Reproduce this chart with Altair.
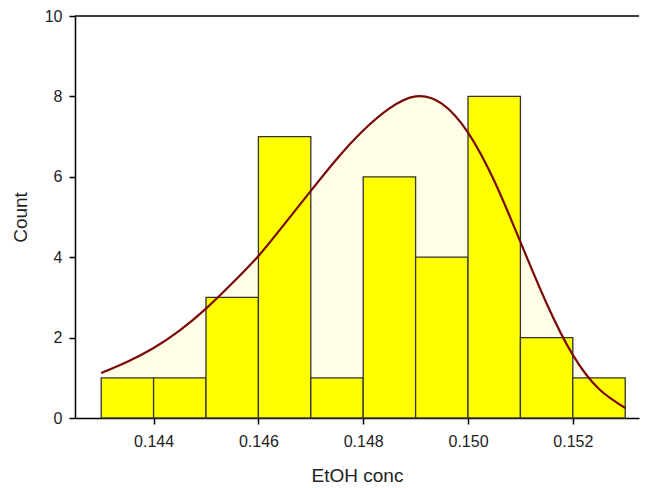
import altair as alt
import pandas as pd

# Histogram bins (EtOH concentration) and counts
bin_starts = [0.143, 0.144, 0.145, 0.146, 0.147, 0.148, 0.149, 0.150, 0.151, 0.152]
bin_ends = [0.144, 0.145, 0.146, 0.147, 0.148, 0.149, 0.150, 0.151, 0.152, 0.153]
counts = [1, 1, 3, 7, 1, 6, 4, 8, 2, 1]

# Fitted curve
curve_x = [0.1430, 0.1435, 0.1440, 0.1445, 0.1450, 0.1455, 0.1460, 0.1465, 0.1470,
           0.1475, 0.1480, 0.1485, 0.1490, 0.1495, 0.1500, 0.1505, 0.1510, 0.1515,
           0.1520, 0.1525, 0.1530]
curve_y = [1.12, 1.40, 1.74, 2.18, 2.72, 3.35, 4.03, 4.83, 5.65,
           6.45, 7.15, 7.70, 8.00, 7.82, 7.10, 5.90, 4.38, 2.85,
           1.57, 0.72, 0.25]

x_ticks = [0.144, 0.146, 0.148, 0.150, 0.152]
y_ticks = [0, 2, 4, 6, 8, 10]

bars_df = pd.DataFrame({"start": bin_starts, "end": bin_ends, "count": counts})
curve_df = pd.DataFrame({"x": curve_x, "y": curve_y})

FONT = "Liberation Sans"
x_scale = alt.Scale(domain=[0.1425, 0.153263], nice=False, zero=False)
y_scale = alt.Scale(domain=[0, 10], nice=False)

x_axis = alt.Axis(values=x_ticks, format=".3f", title="EtOH conc", grid=False,
                  tickSize=6, labelPadding=9, titlePadding=17)
y_axis = alt.Axis(values=y_ticks, format="d", title="Count", grid=False,
                  tickSize=6, labelPadding=7, titlePadding=14)

area = alt.Chart(curve_df).mark_area(
    color="#FFFDE6", interpolate="natural"
).encode(
    x=alt.X("x:Q", scale=x_scale, axis=x_axis),
    y=alt.Y("y:Q", scale=y_scale, axis=y_axis),
)

bars = alt.Chart(bars_df).mark_rect(
    color="#FFFF00", stroke="#333333", strokeWidth=1.3
).encode(
    x=alt.X("start:Q", scale=x_scale),
    x2="end:Q",
    y=alt.Y("count:Q", scale=y_scale),
    y2=alt.datum(0),
)

line = alt.Chart(curve_df).mark_line(
    color="#7A0A0A", strokeWidth=2.2, interpolate="natural"
).encode(
    x=alt.X("x:Q", scale=x_scale),
    y=alt.Y("y:Q", scale=y_scale),
)

top = alt.Chart(pd.DataFrame({"v": [10]})).mark_rule(
    color="black", strokeWidth=1.5
).encode(y=alt.Y("v:Q", scale=y_scale))

chart = alt.layer(area, bars, line, top).properties(
    width=564,
    height=402,
    padding={"left": 3, "top": 0, "right": 0, "bottom": 0},
).configure_view(
    stroke=None
).configure_axis(
    domainColor="black",
    domainWidth=1.5,
    tickColor="black",
    tickWidth=1.5,
    labelFont=FONT,
    labelFontSize=16,
    labelColor="#222222",
    titleFont=FONT,
    titleFontSize=19,
    titleFontWeight="normal",
    titleColor="#222222",
)

chart.save("out.html", embed_options={"renderer": "svg", "actions": False})
